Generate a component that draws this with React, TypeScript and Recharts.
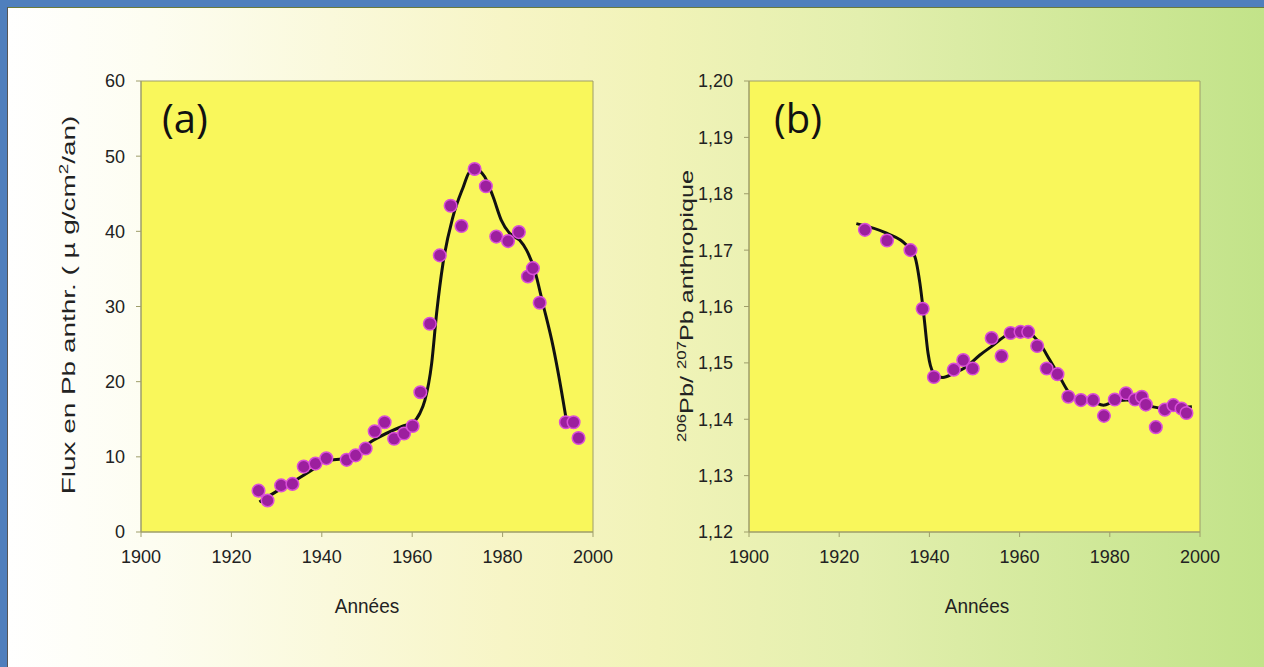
import React from 'react';
import {
  ComposedChart,
  Line,
  Scatter,
  XAxis,
  YAxis,
  CartesianGrid,
  ReferenceArea,
} from 'recharts';

// axes
const yearTicks = [1900, 1920, 1940, 1960, 1980, 2000];
const fluxTicks = [0, 10, 20, 30, 40, 50, 60];
const ratioTicks = [1.12, 1.13, 1.14, 1.15, 1.16, 1.17, 1.18, 1.19, 1.2];

// (a) measured flux
const fluxYears = [
  1926, 1928, 1931, 1933.5, 1936, 1938.6, 1941, 1945.5, 1947.5, 1949.7, 1951.7, 1953.9, 1956,
  1958.2, 1960.1, 1961.8, 1963.9, 1966.1, 1968.5, 1970.9, 1973.8, 1976.3, 1978.6, 1981.2, 1983.6,
  1985.6, 1986.7, 1988.2, 1994, 1995.7, 1996.8,
];
const fluxValues = [
  5.5, 4.2, 6.2, 6.4, 8.7, 9.1, 9.8, 9.6, 10.2, 11.1, 13.4, 14.6, 12.4, 13.1, 14.1, 18.6, 27.7,
  36.8, 43.4, 40.7, 48.3, 46.0, 39.3, 38.7, 39.9, 34.0, 35.1, 30.5, 14.6, 14.6, 12.5,
];

// (a) smoothed curve
const fluxFitYears = [
  1926.2, 1930, 1933.7, 1938, 1941, 1945.5, 1951.4, 1958, 1960.2, 1961.7, 1962.8, 1964.3, 1965.4,
  1966.8, 1969, 1971.3, 1972.7, 1974.2, 1976, 1977.9, 1979.7, 1981.6, 1983.8, 1985.3, 1987.1,
  1988.9, 1991.2, 1992.6, 1994.1,
];
const fluxFitValues = [
  4.0, 5.4, 6.7, 8.3, 9.5, 9.8, 12.2, 14.1, 14.6, 15.8, 17.5, 22.4, 29.1, 35.7, 41.9, 45.9, 47.9,
  48.2, 47.3, 44.6, 41.5, 39.7, 38.8, 37.5, 34.8, 30.4, 24.6, 20.2, 14.9,
];

// (b) measured 206Pb/207Pb
const ratioYears = [
  1925.7, 1930.6, 1935.8, 1938.5, 1941, 1945.4, 1947.5, 1949.6, 1953.8, 1956, 1958, 1960.2,
  1961.9, 1963.9, 1966, 1968.4, 1970.8, 1973.6, 1976.3, 1978.7, 1981.1, 1983.6, 1985.6, 1987.1,
  1988, 1990.2, 1992.2, 1994.1, 1995.9, 1997,
];
const ratioValues = [
  1.1736, 1.1717, 1.17, 1.1596, 1.1475, 1.1488, 1.1505, 1.149, 1.1544, 1.1512, 1.1553, 1.1555,
  1.1555, 1.153, 1.149, 1.148, 1.144, 1.1434, 1.1434, 1.1406, 1.1435, 1.1446, 1.1435, 1.144,
  1.1426, 1.1386, 1.1417, 1.1425, 1.1419, 1.1411,
];

// (b) smoothed curve
const ratioFitYears = [
  1923.8, 1930.5, 1934.9, 1936.8, 1937.9, 1938.8, 1939.7, 1940.8, 1943, 1945.3, 1948.2, 1951.2,
  1954.1, 1957.1, 1960.1, 1962.3, 1964.5, 1966.7, 1968.9, 1970.8, 1973.4, 1976.3, 1978.6, 1980.8,
  1983.7, 1986.7, 1989.6, 1992.6, 1995.6, 1998.2,
];
const ratioFitValues = [
  1.1747, 1.173, 1.1709, 1.1688, 1.1641, 1.1582, 1.1517, 1.1484, 1.1474, 1.1481, 1.1493, 1.1514,
  1.1531, 1.1549, 1.1557, 1.1552, 1.1534, 1.1505, 1.1475, 1.1449, 1.1435, 1.1431, 1.1425, 1.1431,
  1.1434, 1.1431, 1.1422, 1.1419, 1.1421, 1.1422,
];

const SANS = '"Liberation Sans", Arial, sans-serif';
const PLOT_FILL = '#f9f75b';
const AXIS = '#9e9d6a';
const TEXT = '#222';

type Pt = { year: number; v: number };
const toPoints = (xs: number[], ys: number[]): Pt[] => xs.map((year, i) => ({ year, v: ys[i] }));

const Dot = (props: any) => {
  const { cx, cy } = props;
  if (cx == null || cy == null) return null;
  return <circle cx={cx} cy={cy} r={6.3} fill="#9c1f9e" stroke="#d94fd8" strokeWidth={1.5} />;
};

interface PanelProps {
  left: number;
  marginLeft: number;
  marginRight: number;
  points: Pt[];
  fit: Pt[];
  yDomain: [number, number];
  yTicks: number[];
  yFormat?: (v: number) => string;
}

function Panel({ left, marginLeft, marginRight, points, fit, yDomain, yTicks, yFormat }: PanelProps) {
  const tick = { fill: TEXT, fontSize: 18, fontFamily: SANS };
  return (
    <div style={{ position: 'absolute', left, top: 0 }}>
      <ComposedChart
        width={620}
        height={667}
        margin={{ top: 81, right: marginRight, bottom: 105, left: marginLeft }}
      >
        <CartesianGrid horizontal={false} vertical={false} fill={PLOT_FILL} fillOpacity={1} />
        <XAxis
          type="number"
          dataKey="year"
          domain={[1900, 2000]}
          ticks={yearTicks}
          allowDataOverflow
          height={30}
          tickSize={5}
          tickMargin={13}
          stroke={AXIS}
          tick={tick}
        />
        <YAxis
          type="number"
          dataKey="v"
          domain={yDomain}
          ticks={yTicks}
          allowDataOverflow
          width={60}
          tickSize={5}
          tickMargin={11}
          stroke={AXIS}
          tick={tick}
          tickFormatter={yFormat}
        />
        <ReferenceArea
          x1={1900}
          x2={2000}
          y1={yDomain[0]}
          y2={yDomain[1]}
          fill="none"
          stroke={AXIS}
          strokeWidth={1}
        />
        <Line
          data={fit}
          dataKey="v"
          type="monotone"
          stroke="#111"
          strokeWidth={3}
          dot={false}
          activeDot={false}
          isAnimationActive={false}
        />
        <Scatter data={points} dataKey="v" shape={Dot} isAnimationActive={false} />
      </ComposedChart>
    </div>
  );
}

const textBase: React.CSSProperties = {
  position: 'absolute',
  whiteSpace: 'nowrap',
  fontFamily: SANS,
  color: TEXT,
  lineHeight: 1,
};

export default function App() {
  const fluxPts = toPoints(fluxYears, fluxValues);
  const fluxFit = toPoints(fluxFitYears, fluxFitValues);
  const ratioPts = toPoints(ratioYears, ratioValues);
  const ratioFit = toPoints(ratioFitYears, ratioFitValues);

  return (
    <div
      style={{
        position: 'relative',
        width: 1264,
        height: 667,
        overflow: 'hidden',
        background:
          'linear-gradient(to right, #ffffff 0%, #fdfdf1 12%, #f7f5c6 40%, #f1f3b8 52%, #e3efae 68%, #c2e389 100%)',
      }}
    >
      <style>{'body{margin:0}'}</style>
      {/* slide frame */}
      <div style={{ position: 'absolute', left: 0, top: 0, width: 1264, height: 7, background: '#4f7fbd' }} />
      <div style={{ position: 'absolute', left: 0, top: 7, width: 1264, height: 1, background: '#6b7a3a' }} />
      <div style={{ position: 'absolute', left: 0, top: 0, width: 7, height: 667, background: '#4f7fbd' }} />
      <div style={{ position: 'absolute', left: 7, top: 7, width: 1, height: 660, background: '#555' }} />

      <Panel
        left={0}
        marginLeft={81}
        marginRight={27}
        points={fluxPts}
        fit={fluxFit}
        yDomain={[0, 60]}
        yTicks={fluxTicks}
      />
      <Panel
        left={620}
        marginLeft={69}
        marginRight={40}
        points={ratioPts}
        fit={ratioFit}
        yDomain={[1.12, 1.2]}
        yTicks={ratioTicks}
        yFormat={(v: number) => v.toFixed(2).replace('.', ',')}
      />

      {/* panel tags */}
      <div style={{ ...textBase, left: 162, top: 98, fontSize: 40, fontFamily: '"Open Sans", sans-serif', color: '#111' }}>
        (a)
      </div>
      <div style={{ ...textBase, left: 774, top: 98, fontSize: 40, fontFamily: '"Open Sans", sans-serif', color: '#111' }}>
        (b)
      </div>

      {/* axis titles */}
      <div style={{ ...textBase, left: 367, top: 596, fontSize: 19, transform: 'translateX(-50%) scaleY(1.1)' }}>Années</div>
      <div style={{ ...textBase, left: 977, top: 596, fontSize: 19, transform: 'translateX(-50%) scaleY(1.1)' }}>Années</div>
      <div
        style={{
          ...textBase,
          left: 68,
          top: 305,
          fontSize: 18,
          transform: 'translate(-50%, -50%) rotate(-90deg) scaleX(1.55)',
        }}
      >
        Flux en Pb anthr. ( µ g/cm<sup style={{ fontSize: 12 }}>2</sup>/an)
      </div>
      <div
        style={{
          ...textBase,
          left: 686,
          top: 306,
          fontSize: 18,
          transform: 'translate(-50%, -50%) rotate(-90deg) scaleX(1.4)',
        }}
      >
        <sup style={{ fontSize: 12 }}>206</sup>Pb/ <sup style={{ fontSize: 12 }}>207</sup>Pb anthropique
      </div>
    </div>
  );
}
